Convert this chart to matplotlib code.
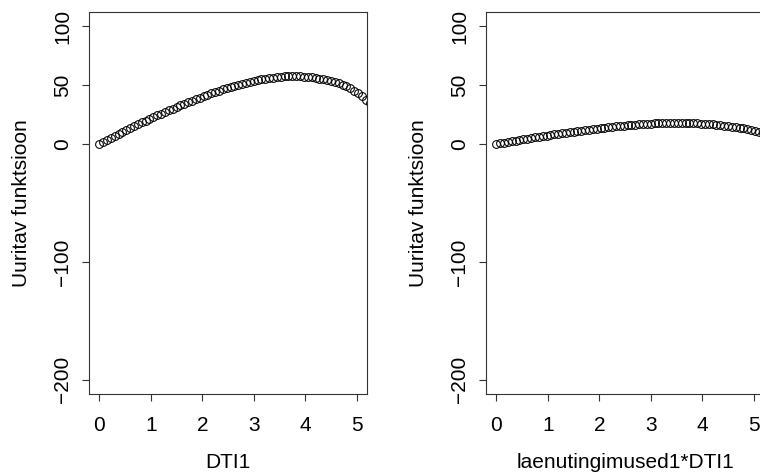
import matplotlib
matplotlib.use("Agg")
import matplotlib.pyplot as plt

# ── data ──────────────────────────────────────────────────────────────────────
x_vals = [0.0, 0.075, 0.15, 0.225, 0.3, 0.375, 0.45, 0.525, 0.6, 0.675,
          0.75, 0.825, 0.9, 0.975, 1.05, 1.125, 1.2, 1.275, 1.35, 1.425,
          1.5, 1.575, 1.65, 1.725, 1.8, 1.875, 1.95, 2.025, 2.1, 2.175,
          2.25, 2.325, 2.4, 2.475, 2.55, 2.625, 2.7, 2.775, 2.85, 2.925,
          3.0, 3.075, 3.15, 3.225, 3.3, 3.375, 3.45, 3.525, 3.6, 3.675,
          3.75, 3.825, 3.9, 3.975, 4.05, 4.125, 4.2, 4.275, 4.35, 4.425,
          4.5, 4.575, 4.65, 4.725, 4.8, 4.875, 4.95, 5.025, 5.1, 5.175, 5.25]

y_dti = [0.0, 1.8, 3.5, 5.2, 6.9, 8.6, 10.3, 11.9, 13.6, 15.2,
         16.8, 18.3, 19.9, 21.4, 22.9, 24.4, 25.8, 27.3, 28.7, 30.1,
         31.5, 32.9, 34.2, 35.6, 36.9, 38.2, 39.4, 40.7, 41.9, 43.0,
         44.2, 45.2, 46.3, 47.3, 48.3, 49.2, 50.1, 51.0, 51.8, 52.6,
         53.4, 54.1, 54.8, 55.4, 55.9, 56.4, 56.8, 57.1, 57.4, 57.5,
         57.6, 57.5, 57.4, 57.2, 56.9, 56.6, 56.1, 55.6, 55.0, 54.3,
         53.5, 52.6, 51.5, 50.3, 48.9, 47.2, 45.4, 43.2, 40.6, 37.6, 34.5]

y_inter = [0.0, 0.6, 1.2, 1.7, 2.3, 2.9, 3.4, 4.0, 4.5, 5.1,
           5.6, 6.1, 6.7, 7.2, 7.7, 8.2, 8.7, 9.2, 9.6, 10.1,
           10.6, 11.0, 11.5, 11.9, 12.3, 12.7, 13.1, 13.5, 13.9, 14.3,
           14.6, 15.0, 15.3, 15.6, 15.9, 16.2, 16.4, 16.7, 16.9, 17.1,
           17.3, 17.5, 17.7, 17.8, 17.9, 17.9, 18.0, 18.0, 18.0, 17.9,
           17.8, 17.7, 17.6, 17.4, 17.2, 16.9, 16.7, 16.4, 16.0, 15.6,
           15.2, 14.8, 14.3, 13.7, 13.2, 12.5, 11.9, 11.2, 10.4, 9.6, 8.7]

x_ticks = [0, 1, 2, 3, 4, 5]
y_ticks = [-200, -100, 0, 50, 100]
y_label = "Uuritav funktsioon"
x_labels = ["DTI1", "laenutingimused1*DTI1"]

plt.rcParams["font.family"] = ["Liberation Sans", "DejaVu Sans"]
plt.rcParams["font.size"] = 15

fig = plt.figure(figsize=(7.6, 4.73), dpi=100)

# panel boxes in figure fractions (right panel runs slightly past the edge)
positions = [[0.1171, 0.167, 0.3658, 0.8076],
             [0.6395, 0.167, 0.3658, 0.8076]]

for pos, yv, xl in zip(positions, [y_dti, y_inter], x_labels):
    ax = fig.add_axes(pos)
    ax.plot(x_vals, yv, linestyle="none", marker="o", ms=5.6,
            mfc="none", mec="black", mew=0.75)
    ax.set_xlim(-0.2, 5.2)
    ax.set_ylim(-212, 112)
    ax.set_xticks(x_ticks)
    ax.set_yticks(y_ticks)
    for s in ax.spines.values():
        s.set_linewidth(0.8)
        s.set_color("#333333")
    ax.tick_params(axis="both", direction="out", length=5, width=0.8,
                   color="#333333", labelsize=15)
    ax.tick_params(axis="x", pad=10.5)
    ax.tick_params(axis="y", pad=7)
    for lab in ax.get_yticklabels():
        lab.set_rotation(90)
        lab.set_va("center")
    ax.set_xlabel(xl, fontsize=15)
    ax.set_ylabel(y_label, fontsize=15)
    ax.xaxis.set_label_coords(0.5, -0.155)
    ax.yaxis.set_label_coords(-0.21, 0.5)

fig.savefig("out.png", dpi=100)
